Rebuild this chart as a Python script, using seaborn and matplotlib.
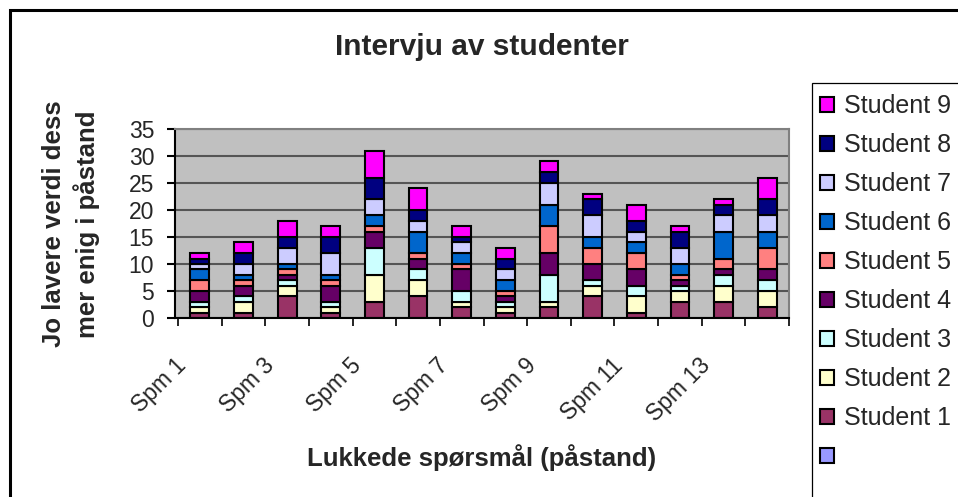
import numpy as np
import pandas as pd
import matplotlib
matplotlib.use('Agg')
import matplotlib.pyplot as plt
import seaborn as sns
from matplotlib.patches import Patch, Rectangle

questions = ['Spm %d' % i for i in range(1, 15)]
students = ['Student %d' % i for i in range(1, 10)]

# verdier per student, Spm 1 .. Spm 14
student_1 = [1, 1, 4, 1, 3, 4, 2, 1, 2, 4, 1, 3, 3, 2]
student_2 = [1, 2, 2, 1, 5, 3, 1, 1, 1, 2, 3, 2, 3, 3]
student_3 = [1, 1, 1, 1, 5, 2, 2, 1, 5, 1, 2, 1, 2, 2]
student_4 = [2, 2, 1, 3, 3, 2, 4, 1, 4, 3, 3, 1, 1, 2]
student_5 = [2, 1, 1, 1, 1, 1, 1, 1, 5, 3, 3, 1, 2, 4]
student_6 = [2, 1, 1, 1, 2, 4, 2, 2, 4, 2, 2, 2, 5, 3]
student_7 = [1, 2, 3, 4, 3, 2, 2, 2, 4, 4, 2, 3, 3, 3]
student_8 = [1, 2, 2, 3, 4, 2, 1, 2, 2, 3, 2, 3, 2, 3]
student_9 = [1, 2, 3, 2, 5, 4, 2, 2, 2, 1, 3, 1, 1, 4]
all_values = [student_1, student_2, student_3, student_4, student_5,
              student_6, student_7, student_8, student_9]

colors = ['#993366', '#FFFFCC', '#CCFFFF', '#660066', '#FF8080',
          '#0066CC', '#CCCCFF', '#000080', '#FF00FF']
empty_color = '#9999FF'

rows = []
for s, vals in zip(students, all_values):
    for q, v in enumerate(vals):
        rows.append({'spm': q, 'student': s, 'verdi': v})
df = pd.DataFrame(rows)

sns.set_style('white')
plt.rcParams['font.family'] = ['Liberation Sans', 'DejaVu Sans']

W, H = 958, 497
fig = plt.figure(figsize=(W / 100, H / 100), dpi=100)
ax = fig.add_axes([175 / W, 1 - 318 / H, 614 / W, 189 / H])
ax.set_facecolor('#C0C0C0')
ax.set_axisbelow(True)

# first hue level ends on top when stacking, so reverse the order
sns.histplot(data=df, x='spm', weights='verdi', hue='student',
             hue_order=students[::-1], multiple='stack', discrete=True,
             shrink=0.43, palette=dict(zip(students, colors)), alpha=1,
             edgecolor='black', linewidth=1.5, legend=False, ax=ax)

ax.set_xlim(-0.5, len(questions) - 0.5)
ax.set_ylim(0, 35)
ax.set_yticks(np.arange(0, 36, 5))
ax.yaxis.grid(True, color='#555555', linewidth=1.5)
ax.xaxis.grid(False)
ax.set_xlabel('')
ax.set_ylabel('')

ax.tick_params(axis='y', direction='out', length=6, width=1.5, color='black',
               labelsize=16.5, pad=9, left=True)
ax.set_xticks(np.arange(-0.5, len(questions), 1.0))
ax.set_xticklabels([])
ax.tick_params(axis='x', which='major', direction='out', length=6, width=1.2,
               color='black', bottom=True)
lbl_pos = np.arange(0, len(questions), 2)
ax.set_xticks(lbl_pos - 0.57, minor=True)
ax.set_xticklabels([questions[i] for i in lbl_pos], minor=True, rotation=45,
                   ha='right', va='top', rotation_mode='anchor', fontsize=16.5)
ax.tick_params(axis='x', which='minor', length=0, pad=26)

for side in ['left', 'bottom']:
    ax.spines[side].set_color('black')
    ax.spines[side].set_linewidth(1.5)
for side in ['top', 'right']:
    ax.spines[side].set_color('#808080')
    ax.spines[side].set_linewidth(1.5)

fig.text(482 / W, 1 - 47 / H, 'Intervju av studenter', ha='center',
         va='center', fontsize=21.5, fontweight='bold')
fig.text(482 / W, 1 - 458 / H, 'Lukkede spørsmål (påstand)', ha='center',
         va='center', fontsize=18.5, fontweight='bold')
fig.text(71 / W, 1 - 224 / H, 'Jo lavere verdi dess\nmer enig i påstand',
         ha='center', va='center', rotation=90, fontsize=18.5,
         fontweight='bold', multialignment='center', linespacing=1.3)

# legend box runs off the right and bottom edge in the original
fig.patches.append(Rectangle((812 / W, -0.1), 1.0, 1.1 - 83 / H,
                             transform=fig.transFigure, facecolor='white',
                             edgecolor='black', linewidth=0.9))

handles = [Patch(facecolor=c, edgecolor='black', linewidth=1.5)
           for c in colors[::-1]]
handles.append(Patch(facecolor=empty_color, edgecolor='black', linewidth=1.5))
labels = students[::-1] + ['']
leg = fig.legend(handles, labels, loc='upper left',
                 bbox_to_anchor=(812 / W, 1 - 86 / H), frameon=False,
                 fontsize=18, handlelength=0.56, handleheight=0.56,
                 handletextpad=0.4, labelspacing=0.6, borderpad=0.32,
                 borderaxespad=0)

fig.patches.append(Rectangle((9.5 / W, -0.1), 1.2, 1.1 - 9.5 / H,
                             transform=fig.transFigure, fill=False,
                             edgecolor='black', linewidth=2.2))

fig.savefig('out.png', dpi=100)
